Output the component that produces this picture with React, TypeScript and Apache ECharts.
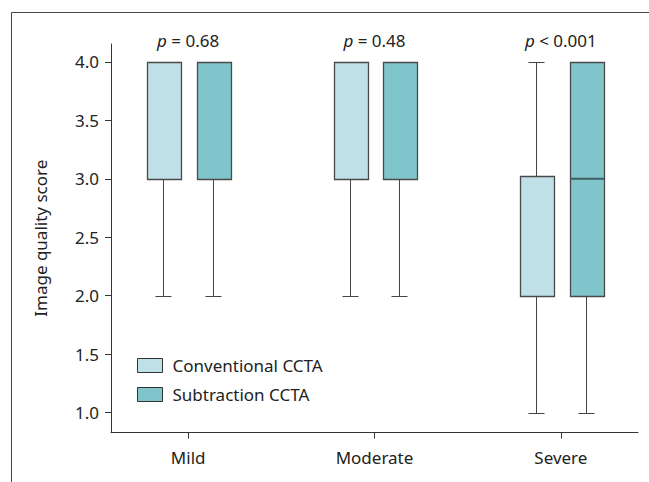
import React, { useEffect, useRef } from "react";
import * as echarts from "echarts";

const categories = ["Mild", "Moderate", "Severe"];
const pValues = ["= 0.68", "= 0.48", "< 0.001"];
const yTicks = [1.0, 1.5, 2.0, 2.5, 3.0, 3.5, 4.0];
const seriesNames = ["Conventional CCTA", "Subtraction CCTA"];
// [min, Q1, median, Q3, max] per category
const conventional = [
  [2, 3, 3, 4, 4],
  [2, 3, 3, 4, 4],
  [1, 2, 2, 3.02, 4],
];
const subtraction = [
  [2, 3, 3, 4, 4],
  [2, 3, 3, 4, 4],
  [1, 2, 3, 4, 4],
];

const FONT = "'Noto Sans', sans-serif";
const FS = 17;
const TXT = "#222";
const AXIS = "#333";
const COLORS = ["#bfe0e6", "#80c5cc"];
const OFFSETS = [-0.134, 0.134];
const BOX_HALF = 0.091;
const CAP_HALF = 0.043;

const crisp = (v: number) => Math.round(v) + 0.5;

function makeRender(offset: number, fill: string) {
  return (params: any, api: any) => {
    const x = api.value(0) + offset;
    const vmin = api.value(1);
    const q1 = api.value(2);
    const med = api.value(3);
    const q3 = api.value(4);
    const vmax = api.value(5);
    const c = api.coord([x, q1]);
    const cx = crisp(c[0]);
    const yMin = crisp(api.coord([x, vmin])[1]);
    const yQ1 = crisp(c[1]);
    const yMed = api.coord([x, med])[1];
    const yQ3 = crisp(api.coord([x, q3])[1]);
    const yMax = crisp(api.coord([x, vmax])[1]);
    const ppu = api.size([1, 0])[0];
    const hw = BOX_HALF * ppu;
    const ch = CAP_HALF * ppu;
    const lineStyle = { stroke: "#444", lineWidth: 1 };
    const children: any[] = [];
    if (vmax > q3) {
      children.push({ type: "line", shape: { x1: cx, y1: yQ3, x2: cx, y2: yMax }, style: lineStyle });
      children.push({ type: "line", shape: { x1: cx - ch, y1: yMax, x2: cx + ch, y2: yMax }, style: lineStyle });
    }
    if (vmin < q1) {
      children.push({ type: "line", shape: { x1: cx, y1: yQ1, x2: cx, y2: yMin }, style: lineStyle });
      children.push({ type: "line", shape: { x1: cx - ch, y1: yMin, x2: cx + ch, y2: yMin }, style: lineStyle });
    }
    children.push({
      type: "rect",
      shape: { x: Math.round(cx - hw) + 0.5, y: yQ3, width: Math.round(2 * hw), height: yQ1 - yQ3 },
      style: { fill, stroke: "#4a4a4a", lineWidth: 1.3 },
    });
    if (med > q1 && med < q3) {
      children.push({
        type: "line",
        shape: { x1: Math.round(cx - hw) + 0.5, y1: yMed, x2: Math.round(cx - hw) + 0.5 + Math.round(2 * hw), y2: yMed },
        style: { stroke: "#3d5d61", lineWidth: 2 },
      });
    }
    return { type: "group", children };
  };
}

export default function App() {
  const ref = useRef<HTMLDivElement>(null);
  useEffect(() => {
    if (!ref.current) return;
    const chart = echarts.init(ref.current, null, { renderer: "svg" });
    const groups = [conventional, subtraction];
    const boxSeries = groups.map((g, si) => ({
      type: "custom",
      name: seriesNames[si],
      itemStyle: { color: COLORS[si], borderColor: "#333", borderWidth: 1 },
      renderItem: makeRender(OFFSETS[si], COLORS[si]),
      encode: { x: 0, y: [1, 2, 3, 4, 5] },
      data: g.map((v, i) => [i, ...v]),
      z: 3,
    }));
    const pSeries = {
      type: "custom",
      name: "p",
      renderItem: (params: any, api: any) => {
        const p = api.coord([api.value(0), api.value(1)]);
        return {
          type: "text",
          style: {
            x: p[0],
            y: p[1],
            text: "{i|p} " + pValues[params.dataIndex],
            align: "center",
            verticalAlign: "middle",
            fontFamily: FONT,
            fontSize: FS,
            fill: TXT,
            rich: {
              i: { fontStyle: "italic", fontFamily: FONT, fontSize: FS, fill: TXT },
            },
          },
        };
      },
      data: categories.map((_, i) => [i, 4.18]),
      silent: true,
    };
    chart.setOption({
      animation: false,
      backgroundColor: "#fff",
      textStyle: { fontFamily: FONT },
      graphic: [
        {
          type: "rect",
          shape: { x: 11.5, y: 12.5, width: 700, height: 600 },
          style: { fill: "none", stroke: "#444", lineWidth: 1 },
          silent: true,
        },
      ],
      grid: { left: 111, right: 11, top: 44, bottom: 49.5, outerBoundsMode: "none", containLabel: false },
      legend: {
        left: 137,
        top: 357,
        padding: 0,
        orient: "vertical",
        itemWidth: 25,
        itemHeight: 14,
        itemGap: 12,
        icon: "rect",
        textStyle: { fontFamily: FONT, fontSize: FS, color: TXT, padding: [0, 0, 0, 5] },
        data: seriesNames.map((n, i) => ({
          name: n,
          itemStyle: { color: COLORS[i], borderColor: "#333", borderWidth: 1 },
        })),
      },
      xAxis: {
        type: "value",
        min: -0.414,
        max: 2.414,
        splitLine: { show: false },
        axisLine: { show: true, onZero: false, lineStyle: { color: AXIS, width: 1 } },
        axisTick: { show: true, customValues: [0, 1, 2], length: 6, lineStyle: { color: AXIS } },
        axisLabel: {
          customValues: [0, 1, 2],
          formatter: (v: number) => categories[Math.round(v)] ?? "",
          fontFamily: FONT,
          fontSize: FS,
          color: TXT,
          margin: 16,
        },
      },
      yAxis: {
        type: "value",
        min: 0.829,
        max: 4.154,
        name: "Image quality score",
        nameLocation: "middle",
        nameGap: 62,
        nameTextStyle: { fontFamily: FONT, fontSize: FS, color: TXT },
        splitLine: { show: false },
        axisLine: { show: true, onZero: false, lineStyle: { color: AXIS, width: 1 } },
        axisTick: { show: true, customValues: yTicks, length: 6, lineStyle: { color: AXIS } },
        axisLabel: {
          customValues: yTicks,
          formatter: (v: number) => v.toFixed(1),
          fontFamily: FONT,
          fontSize: FS,
          color: TXT,
          margin: 12,
        },
      },
      series: [...boxSeries, pSeries],
    });
    return () => chart.dispose();
  }, []);
  return (
    <div
      ref={ref}
      style={{ position: "fixed", left: 0, top: 0, width: 649, height: 482, background: "#fff" }}
    />
  );
}
